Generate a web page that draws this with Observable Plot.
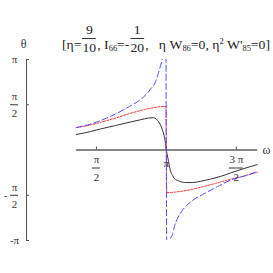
<!DOCTYPE html>
<html>
<head>
<meta charset="utf-8">
<script src="https://cdn.jsdelivr.net/npm/d3@7"></script>
<script src="https://cdn.jsdelivr.net/npm/@observablehq/plot@0.6"></script>
<style>
  html, body { margin: 0; padding: 0; background: #fff; }
  #wrap { position: relative; width: 273px; height: 273px; overflow: hidden; }
  #wrap svg { display: block; }
  #title { position: absolute; left: 62px; top: 25px; font-family: "Liberation Serif", serif; font-size: 13px;
           white-space: pre; color: #222; transform-origin: 0 0; }
  .frac { display: inline-flex; flex-direction: column; align-items: stretch; text-align: center; vertical-align: 15px; margin: 0 1px; }
  .frac .n { line-height: 10px; padding-bottom: 3px; }
  .frac .d { line-height: 10px; padding-top: 4px; border-top: 1px solid #333; }
  #title sub { font-size: 8px; vertical-align: -2px; }
  #title sup { font-size: 8px; vertical-align: 5px; }
</style>
</head>
<body>
<div id="wrap">
  <div id="title">[η=<span class="frac"><span class="n">9</span><span class="d">10</span></span>, I<sub>66</sub>=-<span class="frac"><span class="n">1</span><span class="d">20</span></span>,   η W<sub>86</sub>=0, η<sup>2</sup> W'<sub>85</sub>=0]</div>
</div>
<script>
// ---- data ----
const omegaBlack = [1.12, 1.44, 1.66, 2.00, 2.33, 2.56, 2.74, 2.85, 2.92, 2.96, 3.01, 3.05, 3.10, 3.1416, 3.19, 3.23, 3.28, 3.32, 3.41, 3.57, 3.72, 3.90, 4.13, 4.35, 4.58, 4.85, 5.18];
const thetaBlack = [0.54, 0.64, 0.73, 0.85, 0.97, 1.05, 1.11, 1.12, 1.07, 0.99, 0.87, 0.71, 0.43, 0.00, -0.40, -0.71, -0.88, -0.99, -1.07, -1.13, -1.13, -1.09, -1.01, -0.92, -0.80, -0.66, -0.51];

const omegaRed = [1.12, 1.44, 1.66, 2.00, 2.33, 2.67, 2.90, 3.08, 3.13, 3.15, 3.34, 3.57, 3.90, 4.24, 4.58, 4.92, 5.18];
const thetaRed = [0.78, 0.87, 0.96, 1.11, 1.27, 1.41, 1.48, 1.51, 1.51, -1.48, -1.46, -1.41, -1.30, -1.16, -1.02, -0.89, -0.77];

const omegaBlue = [1.12, 1.44, 1.66, 2.00, 2.33, 2.56, 2.78, 2.90, 2.96, 3.03, 3.08, 3.12, 3.16, 3.20, 3.23, 3.28, 3.32, 3.39, 3.50, 3.73, 3.95, 4.29, 4.62, 4.92, 5.18];
const thetaBlue = [0.78, 0.90, 1.02, 1.25, 1.53, 1.75, 2.10, 2.38, 2.66, 3.04, 3.40, 6.0, -6.0, -3.5, -3.10, -2.93, -2.66, -2.38, -2.10, -1.75, -1.55, -1.27, -1.02, -0.89, -0.75];

const omegaSpan = [1.12, 5.19];
const yTicks = [Math.PI, Math.PI / 2, -Math.PI / 2, -Math.PI];
const xTicks = [Math.PI / 2, Math.PI, 3 * Math.PI / 2];

const yLabelSingle = [{v: Math.PI, t: "π"}, {v: -Math.PI, t: "-π"}];
const yLabelFrac = [{v: Math.PI / 2, num: "π", den: "2", sign: ""}, {v: -Math.PI / 2, num: "π", den: "2", sign: "-"}];
const xLabelSingle = [{v: Math.PI, t: "π"}];
const xLabelFrac = [{v: Math.PI / 2, num: "π", den: "2"}, {v: 3 * Math.PI / 2, num: "3 π", den: "2"}];

const toRows = (xs, ys) => xs.map((x, i) => ({x, y: ys[i]}));
const black = toRows(omegaBlack, thetaBlack);
const red = toRows(omegaRed, thetaRed);
const blue = toRows(omegaBlue, thetaBlue);

const ink = "#333";
const chart = Plot.plot({
  width: 273, height: 273,
  marginTop: 59, marginBottom: 33, marginLeft: 26, marginRight: 11,
  x: {domain: [0, 5.3], axis: null},
  y: {domain: [-Math.PI, Math.PI], axis: null},
  style: {fontFamily: "Liberation Serif, serif", fontSize: "11px", background: "white", color: ink},
  marks: [
    // axes
    Plot.ruleX([0], {y1: -Math.PI, y2: Math.PI, stroke: "#555", strokeWidth: 1}),
    Plot.ruleY([0], {x1: omegaSpan[0], x2: omegaSpan[1], stroke: "#111", strokeWidth: 1}),
    Plot.ruleY(yTicks, {y: d => d, x1: 0, x2: 0, insetRight: -3, stroke: "#555"}),
    Plot.ruleX(xTicks, {x: d => d, y1: 0, y2: 0, insetTop: -3, stroke: "#555"}),
    // curves
    Plot.line(black, {x: "x", y: "y", stroke: "#333", strokeWidth: 1, curve: "monotone-x", clip: true}),
    Plot.line(red, {x: "x", y: "y", stroke: "#ff2a2a", strokeWidth: 1, strokeDasharray: "2,1.5", curve: "monotone-x", clip: true}),
    Plot.line(blue, {x: "x", y: "y", stroke: "#4d4dff", strokeWidth: 1, strokeDasharray: "6,3", curve: "monotone-x", clip: true}),
    // y tick labels
    Plot.text(yLabelSingle, {x: 0, y: "v", text: "t", dx: -12, textAnchor: "middle", fill: ink}),
    Plot.text(yLabelFrac, {x: 0, y: "v", text: "num", dx: -12, dy: -8, textAnchor: "middle", fill: ink}),
    Plot.text(yLabelFrac, {x: 0, y: "v", text: "den", dx: -12, dy: 9, textAnchor: "middle", fill: ink}),
    Plot.text(yLabelFrac, {x: 0, y: "v", text: "sign", dx: -21, textAnchor: "middle", fill: ink}),
    Plot.ruleY(yLabelFrac, {y: "v", x1: 0, x2: 0, insetLeft: -16, insetRight: 8, stroke: ink}),
    // x tick labels
    Plot.text(xLabelSingle, {x: "v", y: 0, text: "t", dy: 13, textAnchor: "middle", fill: ink}),
    Plot.text(xLabelFrac, {x: "v", y: 0, text: "num", dy: 9, textAnchor: "middle", fill: ink}),
    Plot.text(xLabelFrac, {x: "v", y: 0, text: "den", dy: 27, textAnchor: "middle", fill: ink}),
    Plot.ruleY(xLabelFrac.slice(0, 1), {y: 0, x1: "v", x2: "v", insetLeft: -4, insetRight: -4, dy: 18, stroke: ink}),
    Plot.ruleY(xLabelFrac.slice(1), {y: 0, x1: "v", x2: "v", insetLeft: -7, insetRight: -7, dy: 18, stroke: ink}),
    // axis names
    Plot.text(["θ"], {x: 0, y: Math.PI, text: d => d, dx: -3, dy: -15, textAnchor: "middle", fill: ink, fontSize: 12}),
    Plot.text(["ω"], {x: omegaSpan[1], y: 0, text: d => d, dx: 5, textAnchor: "start", fill: ink, fontSize: 12})
  ]
});
const wrap = document.getElementById("wrap");
wrap.insertBefore(chart, wrap.firstChild);
const title = document.getElementById("title");
const w = title.getBoundingClientRect().width;
title.style.transform = `scaleX(${208 / w})`;
</script>
</body>
</html>
